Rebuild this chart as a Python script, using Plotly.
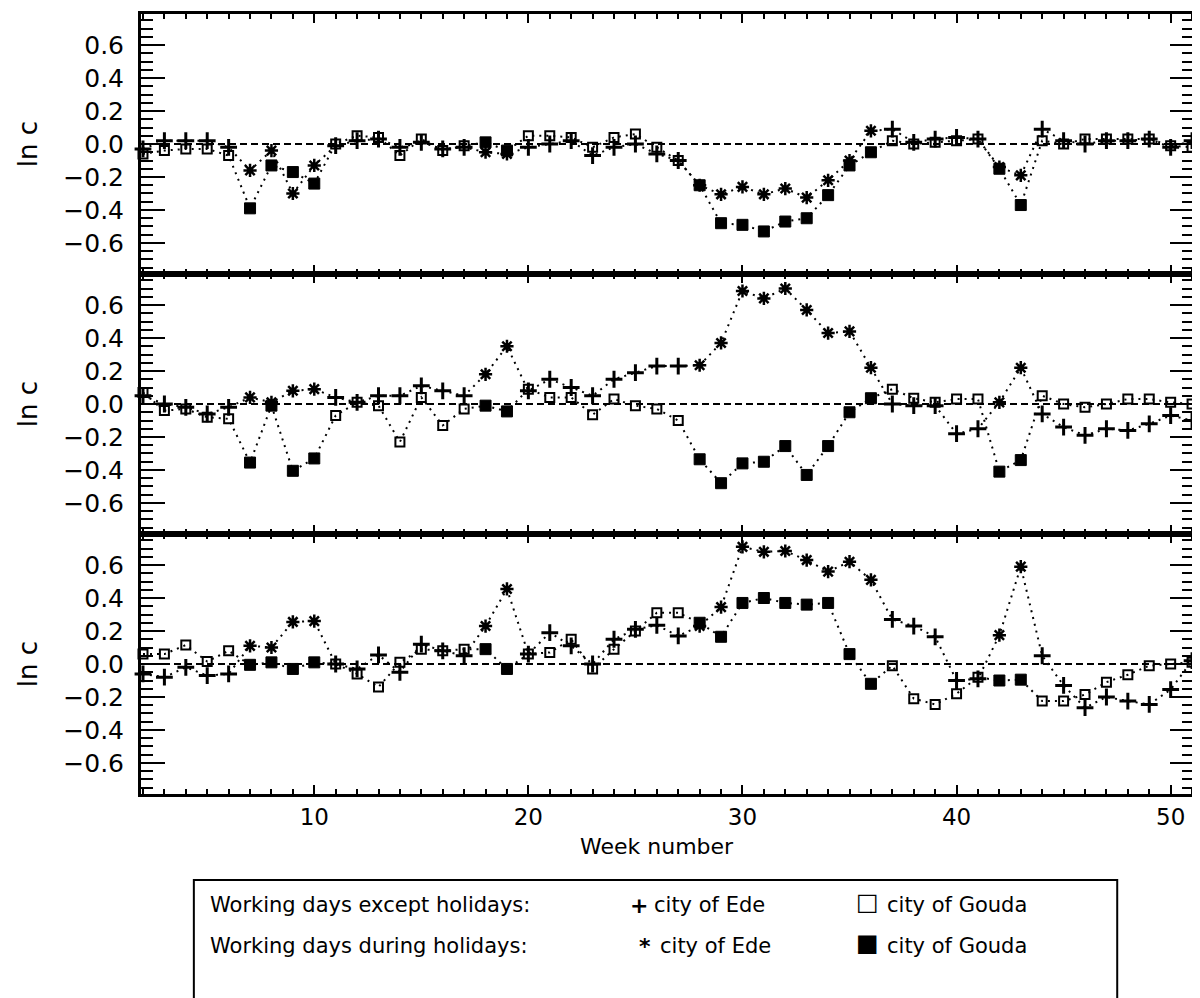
import plotly.graph_objects as go

# ---------------- data ----------------
weeks = list(range(2, 52))
holiday_weeks = [7, 8, 9, 10, 18, 19, 28, 29, 30, 31, 32, 33, 34, 35, 36, 42, 43]

ede_top = [-0.03, 0.02, 0.02, 0.02, -0.02, -0.16, -0.04, -0.30, -0.13, -0.01,
           0.02, 0.03, -0.02, 0.01, -0.03, -0.02, -0.05, -0.06, -0.02, 0.00,
           0.02, -0.07, -0.02, 0.00, -0.06, -0.10, -0.25, -0.305, -0.26, -0.305,
           -0.27, -0.325, -0.22, -0.10, 0.08, 0.09, 0.01, 0.03, 0.04, 0.03,
           -0.14, -0.19, 0.09, 0.02, 0.00, 0.02, 0.02, 0.03, -0.02, 0.02]
gouda_top = [-0.06, -0.04, -0.03, -0.03, -0.07, -0.39, -0.13, -0.17, -0.24, 0.00,
             0.05, 0.04, -0.07, 0.03, -0.04, -0.01, 0.01, -0.04, 0.05, 0.05,
             0.04, -0.02, 0.04, 0.06, -0.02, -0.10, -0.25, -0.48, -0.49, -0.53,
             -0.47, -0.45, -0.31, -0.13, -0.05, 0.02, 0.00, 0.01, 0.02, 0.03,
             -0.15, -0.37, 0.02, 0.00, 0.03, 0.03, 0.03, 0.03, -0.01, -0.02]

ede_mid = [0.05, 0.00, -0.02, -0.06, -0.02, 0.04, 0.01, 0.08, 0.09, 0.04,
           0.01, 0.05, 0.05, 0.11, 0.08, 0.05, 0.18, 0.35, 0.08, 0.15,
           0.10, 0.05, 0.15, 0.19, 0.23, 0.23, 0.235, 0.37, 0.685, 0.64,
           0.70, 0.57, 0.43, 0.44, 0.22, 0.00, -0.01, -0.01, -0.18, -0.15,
           0.01, 0.22, -0.06, -0.14, -0.19, -0.15, -0.16, -0.12, -0.07, -0.10]
gouda_mid = [0.07, -0.04, -0.03, -0.08, -0.09, -0.355, -0.01, -0.405, -0.33, -0.07,
             0.01, -0.01, -0.23, 0.04, -0.13, -0.03, -0.01, -0.045, 0.09, 0.04,
             0.04, -0.065, 0.03, -0.01, -0.03, -0.10, -0.335, -0.48, -0.36, -0.35,
             -0.255, -0.43, -0.255, -0.05, 0.035, 0.09, 0.035, 0.01, 0.03, 0.03,
             -0.41, -0.34, 0.05, 0.00, -0.02, 0.00, 0.03, 0.03, 0.01, 0.00]

ede_bot = [-0.06, -0.08, -0.02, -0.07, -0.06, 0.11, 0.10, 0.255, 0.26, 0.00,
           -0.03, 0.055, -0.05, 0.12, 0.08, 0.05, 0.23, 0.455, 0.06, 0.19,
           0.11, 0.00, 0.15, 0.21, 0.235, 0.17, 0.23, 0.345, 0.71, 0.68,
           0.685, 0.63, 0.56, 0.62, 0.51, 0.27, 0.23, 0.165, -0.10, -0.09,
           0.175, 0.59, 0.05, -0.13, -0.265, -0.20, -0.225, -0.245, -0.155, 0.02]
gouda_bot = [0.06, 0.06, 0.115, 0.015, 0.08, -0.005, 0.01, -0.03, 0.01, 0.00,
             -0.06, -0.14, 0.01, 0.09, 0.08, 0.09, 0.09, -0.03, 0.06, 0.07,
             0.15, -0.03, 0.09, 0.20, 0.31, 0.31, 0.25, 0.165, 0.37, 0.40,
             0.37, 0.36, 0.37, 0.06, -0.12, -0.01, -0.21, -0.245, -0.18, -0.08,
             -0.10, -0.095, -0.225, -0.225, -0.185, -0.11, -0.065, -0.01, 0.00, 0.01]

panels = [(ede_top, gouda_top), (ede_mid, gouda_mid), (ede_bot, gouda_bot)]

x_tick_step = 10
y_tick_step = 0.2
x_title = "Week number"
y_title = "ln c"
legend_rows = [("Working days except holidays:", "+", "city of Ede", "\u25a1", "city of Gouda"),
               ("Working days during holidays:", "*", "city of Ede", "\u25a0", "city of Gouda")]

# ---------------- layout geometry ----------------
OFF = 8                      # default page margin of the html body
W, H = 1200 - OFF, 998 - OFF
L, R, T, B = 133, 3, 6, 204
PW, PH = W - L - R, H - T - B
FONT = "DejaVu Sans"


def px_x(px):
    """page pixel x -> paper coordinate"""
    return (px - OFF - L) / PW


def px_y(py):
    """page pixel y -> paper coordinate"""
    return (H - B - (py - OFF)) / PH


fig = go.Figure()

dot = dict(color="black", width=2, dash="2px,5px")
sym = {
    "ede_work": dict(symbol="cross-thin", size=12, color="black", line=dict(color="black", width=3)),
    "gouda_work": dict(symbol="square-open", size=9, color="black", line=dict(color="black", width=2)),
    "ede_hol": dict(symbol="asterisk", size=11, color="black", line=dict(color="black", width=2.5)),
    "gouda_hol": dict(symbol="square", size=11, color="black", line=dict(color="black", width=1)),
}

for i, (ede, gouda) in enumerate(panels):
    xa = "x" if i == 0 else f"x{i+1}"
    ya = "y" if i == 0 else f"y{i+1}"
    for city, vals in (("ede", ede), ("gouda", gouda)):
        fig.add_trace(go.Scatter(x=weeks, y=vals, mode="lines", line=dot,
                                 xaxis=xa, yaxis=ya, showlegend=False, hoverinfo="skip",
                                 cliponaxis=False))
        wk_x = [w for w in weeks if w not in holiday_weeks]
        wk_y = [v for w, v in zip(weeks, vals) if w not in holiday_weeks]
        hl_x = [w for w in weeks if w in holiday_weeks]
        hl_y = [v for w, v in zip(weeks, vals) if w in holiday_weeks]
        fig.add_trace(go.Scatter(x=wk_x, y=wk_y, mode="markers", marker=sym[f"{city}_work"],
                                 xaxis=xa, yaxis=ya, showlegend=False, cliponaxis=False))
        fig.add_trace(go.Scatter(x=hl_x, y=hl_y, mode="markers", marker=sym[f"{city}_hol"],
                                 xaxis=xa, yaxis=ya, showlegend=False, cliponaxis=False))

xrange = [1.907, 51.09]
yrange = [-0.788, 0.788]
domains = [[2 / 3, 1.0], [1 / 3, 2 / 3], [0.0, 1 / 3]]

layout = dict(
    width=W, height=H,
    margin=dict(l=L, r=R, t=T, b=B, pad=0),
    paper_bgcolor="white", plot_bgcolor="white",
    font=dict(family=FONT, color="black", size=22),
    showlegend=False,
    shapes=[], annotations=[],
)

for i in range(3):
    xk = "xaxis" if i == 0 else f"xaxis{i+1}"
    yk = "yaxis" if i == 0 else f"yaxis{i+1}"
    xa = "x" if i == 0 else f"x{i+1}"
    ya = "y" if i == 0 else f"y{i+1}"
    layout[xk] = dict(
        range=xrange, anchor=ya, domain=[0, 1],
        showline=True, linewidth=3, linecolor="black", mirror="allticks",
        ticks="inside", ticklen=9, tickwidth=2, tickcolor="black",
        tick0=0, dtick=x_tick_step,
        minor=dict(dtick=1, tick0=0, ticklen=5, tickwidth=2, ticks="inside", tickcolor="black", showgrid=False),
        showgrid=False, zeroline=False,
        showticklabels=(i == 2),
        ticklabelstandoff=0,
        tickfont=dict(family=FONT, size=23),
    )
    if i < 2:
        layout[xk]["matches"] = "x3"
    layout[yk] = dict(
        range=yrange, domain=domains[i], anchor=xa,
        showline=True, linewidth=3, linecolor="black", mirror="allticks",
        ticks="inside", ticklen=24, tickwidth=2, tickcolor="black",
        tick0=0, dtick=y_tick_step, tickformat=".1f",
        minor=dict(dtick=0.05, tick0=0, ticklen=12, tickwidth=2, ticks="inside", tickcolor="black", showgrid=False),
        showgrid=False, zeroline=False,
        ticklabelstandoff=9,
        tickfont=dict(family=FONT, size=25),
    )
    layout["shapes"].append(dict(type="line", xref=f"{xa} domain", x0=0, x1=1, yref=ya, y0=0, y1=0,
                                 line=dict(color="black", width=2, dash="7px,4px"), layer="below"))
    zero_py = OFF + T + PH * (1 - (domains[i][0] + domains[i][1]) / 2)
    layout["annotations"].append(dict(text=y_title, xref="paper", yref="paper",
                                      x=px_x(28), y=px_y(zero_py), textangle=-90,
                                      showarrow=False, xanchor="center", yanchor="middle",
                                      font=dict(family=FONT, size=26)))

layout["annotations"].append(dict(text=x_title, xref="paper", yref="paper", x=px_x(658), y=px_y(846),
                                  showarrow=False, xanchor="center", yanchor="middle",
                                  font=dict(family=FONT, size=22)))

# legend box
layout["shapes"].append(dict(type="rect", xref="paper", yref="paper",
                             x0=px_x(194), x1=px_x(1120), y0=px_y(880), y1=px_y(1010),
                             line=dict(color="black", width=2), fillcolor="rgba(0,0,0,0)"))
row_y = [905, 946]
sym1_x = [640, 646]
for (label, s1, t1, s2, t2), ry, sx in zip(legend_rows, row_y, sym1_x):
    layout["annotations"].append(dict(text=label, xref="paper", yref="paper", x=px_x(208), y=px_y(ry),
                                      showarrow=False, xanchor="left", yanchor="middle",
                                      font=dict(family=FONT, size=21)))
    layout["annotations"].append(dict(text="<b>" + s1 + "</b>", xref="paper", yref="paper", x=px_x(sx), y=px_y(ry),
                                      showarrow=False, xanchor="center", yanchor="middle",
                                      font=dict(family=FONT, size=22)))
    layout["annotations"].append(dict(text=t1, xref="paper", yref="paper", x=px_x(sx + 13), y=px_y(ry),
                                      showarrow=False, xanchor="left", yanchor="middle",
                                      font=dict(family=FONT, size=21)))
    layout["annotations"].append(dict(text=s2, xref="paper", yref="paper", x=px_x(870), y=px_y(ry - 3),
                                      showarrow=False, xanchor="center", yanchor="middle",
                                      font=dict(family=FONT, size=24)))
    layout["annotations"].append(dict(text=t2, xref="paper", yref="paper", x=px_x(887), y=px_y(ry),
                                      showarrow=False, xanchor="left", yanchor="middle",
                                      font=dict(family=FONT, size=21)))

fig.update_layout(**layout)
fig.write_html("out.html")
